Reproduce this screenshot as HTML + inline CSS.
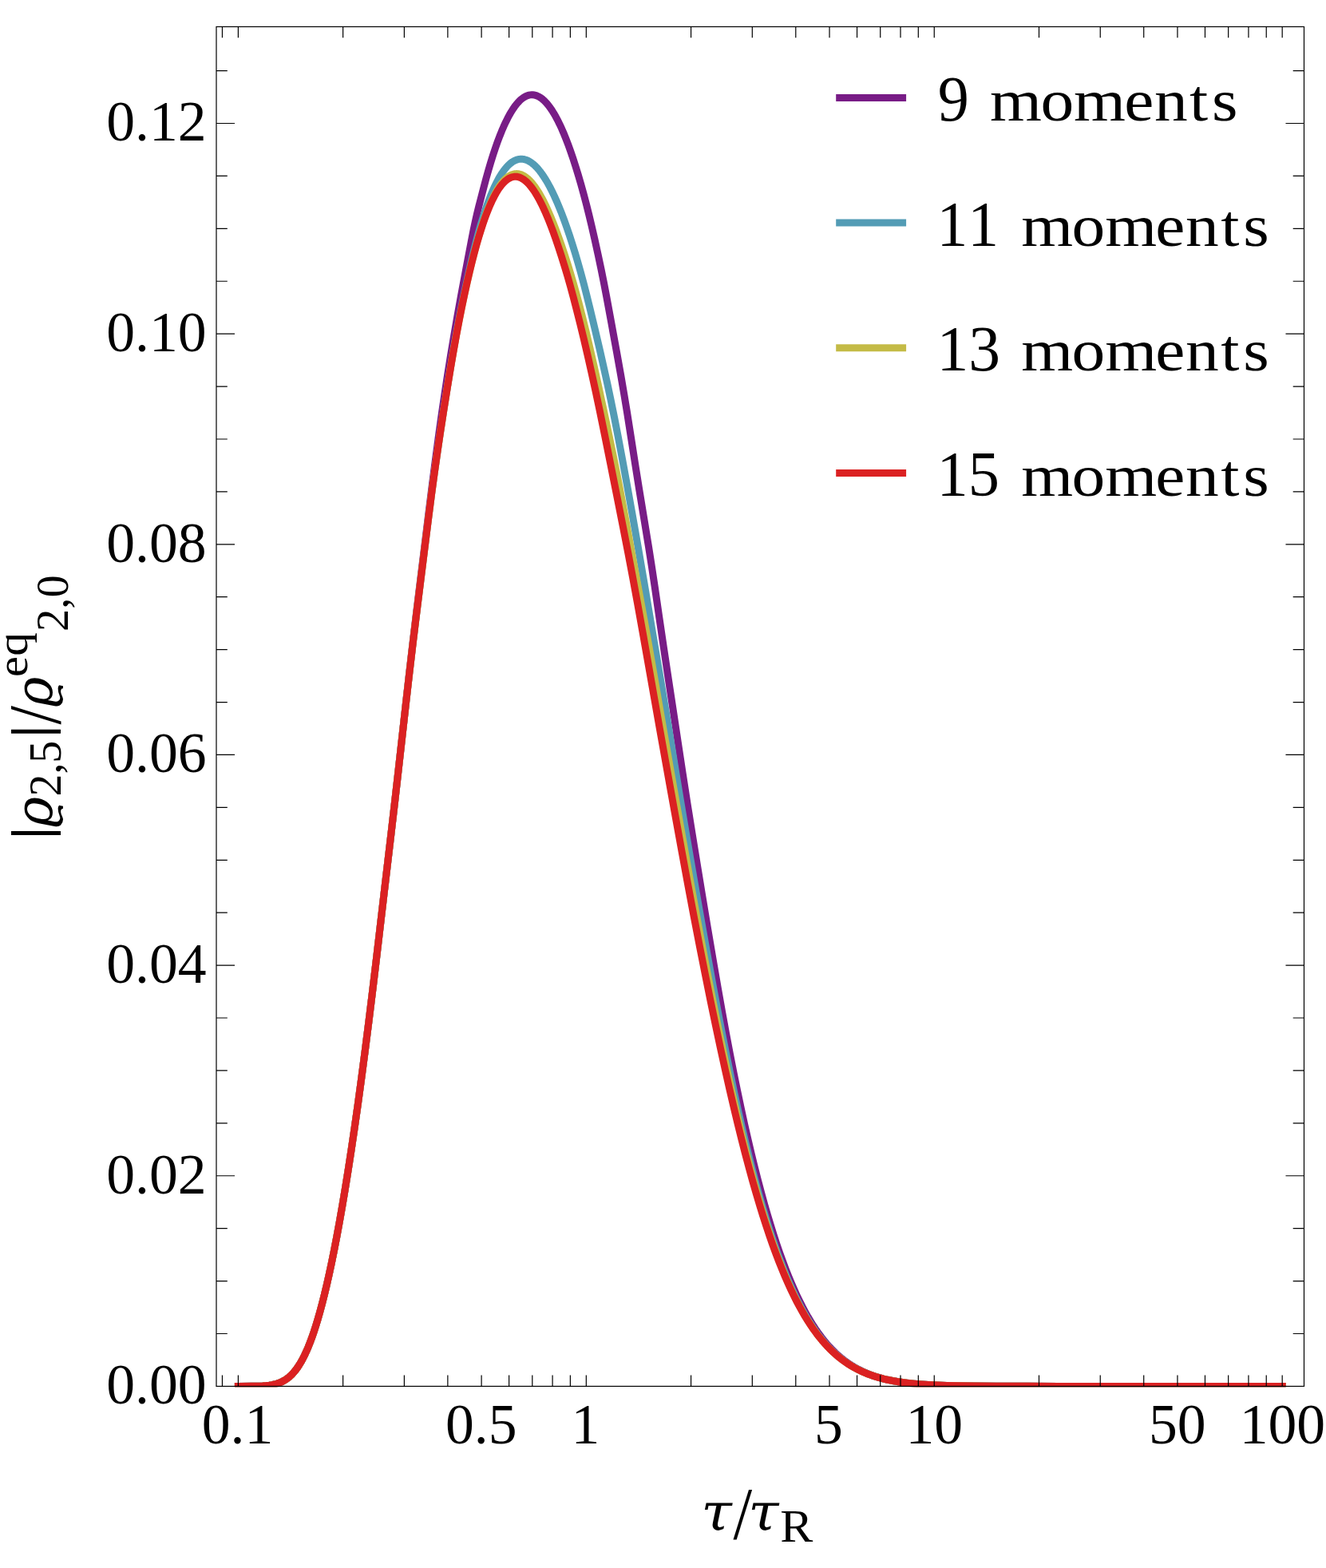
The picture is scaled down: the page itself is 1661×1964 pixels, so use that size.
<!DOCTYPE html>
<html lang="en"><head><meta charset="utf-8"><title>Moment convergence plot</title>
<style>html,body{margin:0;padding:0;background:#fff}body{width:1661px;height:1964px;overflow:hidden}svg{display:block}text{font-family:"Liberation Serif","DejaVu Serif",serif;fill:#000;font-kerning:none;white-space:pre}.it{font-style:italic}.gk{font-family:"DejaVu Serif","Liberation Serif",serif;font-style:italic}.sn{font-family:"Liberation Sans","DejaVu Sans",sans-serif}.c{fill:none;stroke-width:9.0;stroke-linecap:square;stroke-linejoin:round}.fr{fill:none;stroke:#000;stroke-width:1.2}.tk{stroke:#000;stroke-width:1.2;fill:none}</style></head>
<body><svg width="1661" height="1964" viewBox="0 0 1661 1964">
<rect width="1661" height="1964" fill="#fff"/>
<defs><clipPath id="pc"><rect x="271" y="33.5" width="1363.5" height="1703.8"/></clipPath></defs>
<g clip-path="url(#pc)">
<path class="c" stroke="#781C86" d="M298.40 1736.40 L315.08 1736.33 L323.30 1736.18 L329.01 1735.93 L333.53 1735.59 L337.36 1735.15 L340.72 1734.62 L343.74 1733.98 L346.52 1733.24 L349.11 1732.38 L351.56 1731.41 L353.89 1730.31 L356.16 1729.07 L358.34 1727.68 L360.47 1726.14 L362.58 1724.41 L364.66 1722.50 L366.72 1720.38 L368.79 1718.02 L370.87 1715.40 L372.94 1712.51 L375.04 1709.31 L377.17 1705.74 L379.32 1701.83 L381.51 1697.51 L383.75 1692.70 L386.02 1687.45 L388.35 1681.62 L390.74 1675.22 L393.17 1668.21 L395.69 1660.43 L398.26 1651.97 L400.92 1642.62 L403.64 1632.44 L406.47 1621.25 L409.37 1609.05 L412.38 1595.71 L415.48 1581.19 L418.69 1565.36 L422.00 1548.21 L425.42 1529.56 L428.95 1509.45 L432.60 1487.68 L436.36 1464.25 L440.24 1439.05 L444.24 1411.93 L448.38 1382.81 L452.67 1351.42 L457.14 1317.41 L461.86 1280.31 L466.74 1240.65 L471.50 1200.96 L476.15 1161.27 L480.81 1121.57 L485.49 1081.87 L490.16 1042.17 L494.77 1002.47 L499.27 962.75 L503.71 923.03 L508.14 883.30 L512.63 843.58 L517.19 804.27 L521.87 765.34 L526.74 725.66 L531.62 685.99 L536.49 646.32 L541.37 607.29 L545.64 574.28 L549.57 545.12 L553.31 518.45 L556.96 493.56 L560.69 469.21 L564.56 445.02 L568.57 420.97 L572.72 397.06 L577.39 371.12 L583.35 339.05 L590.27 302.51 L593.13 287.90 L595.35 277.33 L597.41 268.27 L599.89 258.13 L605.27 237.33 L608.82 223.87 L611.75 213.42 L614.81 203.12 L617.70 193.88 L620.53 185.39 L623.27 177.62 L625.94 170.52 L628.53 164.07 L631.05 158.22 L633.49 152.92 L635.85 148.16 L638.15 143.87 L640.38 140.04 L642.54 136.63 L644.63 133.60 L646.66 130.95 L648.63 128.62 L650.54 126.60 L652.39 124.85 L654.20 123.37 L655.95 122.12 L657.67 121.09 L659.35 120.27 L660.99 119.64 L662.63 119.17 L664.24 118.88 L665.83 118.76 L667.43 118.79 L669.03 118.98 L670.66 119.35 L672.32 119.88 L673.99 120.59 L675.70 121.51 L677.46 122.63 L679.27 123.98 L681.13 125.59 L683.05 127.45 L685.04 129.62 L687.08 132.10 L689.20 134.94 L691.38 138.15 L693.65 141.77 L695.99 145.82 L698.41 150.35 L700.92 155.40 L703.51 160.98 L706.18 167.15 L708.95 173.95 L711.81 181.42 L714.77 189.61 L717.82 198.56 L720.98 208.34 L724.23 218.94 L727.63 230.59 L731.09 243.01 L734.29 255.10 L737.55 268.09 L740.99 282.46 L744.78 299.07 L749.19 319.15 L753.02 337.30 L756.29 353.49 L759.81 371.85 L765.51 402.80 L772.60 441.61 L777.78 470.63 L781.78 493.92 L785.43 516.07 L790.26 546.68 L796.25 585.17 L800.74 613.26 L806.95 650.91 L812.41 684.34 L816.16 708.13 L820.25 735.25 L825.80 773.31 L831.33 810.99 L837.24 850.27 L843.25 889.78 L849.22 929.30 L855.20 968.83 L860.91 1005.85 L866.87 1043.33 L873.28 1082.79 L879.76 1122.23 L886.32 1161.66 L892.98 1201.07 L899.28 1237.55 L904.69 1268.02 L909.65 1295.07 L914.35 1319.84 L918.92 1343.12 L923.53 1365.77 L928.10 1387.49 L932.56 1407.86 L936.91 1427.06 L941.20 1445.24 L945.40 1462.39 L949.53 1478.61 L953.59 1493.90 L957.59 1508.36 L961.52 1521.99 L965.40 1534.89 L969.22 1547.04 L972.99 1558.54 L976.71 1569.37 L980.40 1579.61 L984.04 1589.27 L987.64 1598.39 L991.21 1607.01 L994.74 1615.12 L998.25 1622.80 L1001.73 1630.03 L1005.19 1636.87 L1008.63 1643.31 L1012.05 1649.39 L1015.46 1655.13 L1018.86 1660.55 L1022.25 1665.66 L1025.64 1670.48 L1029.03 1675.04 L1032.43 1679.33 L1035.83 1683.39 L1039.25 1687.21 L1042.69 1690.83 L1046.15 1694.23 L1049.65 1697.45 L1053.17 1700.48 L1056.75 1703.35 L1060.37 1706.05 L1064.06 1708.60 L1067.82 1711.00 L1071.65 1713.26 L1075.58 1715.39 L1079.61 1717.40 L1083.76 1719.28 L1088.04 1721.05 L1092.48 1722.71 L1097.09 1724.26 L1101.90 1725.70 L1106.95 1727.05 L1112.26 1728.30 L1117.89 1729.45 L1123.87 1730.50 L1130.29 1731.47 L1137.22 1732.35 L1144.79 1733.13 L1153.13 1733.83 L1162.47 1734.44 L1173.13 1734.97 L1185.59 1735.41 L1200.71 1735.77 L1220.08 1736.05 L1247.41 1736.24 L1286.43 1736.35 L1326.40 1736.39 L1366.37 1736.40 L1406.34 1736.40 L1446.31 1736.40 L1486.29 1736.40 L1526.26 1736.40 L1566.23 1736.40 L1606.20 1736.40"/>
<path class="c" stroke="#539CB5" d="M298.40 1736.40 L315.08 1736.33 L323.30 1736.18 L329.02 1735.93 L333.54 1735.59 L337.37 1735.15 L340.73 1734.61 L343.75 1733.98 L346.53 1733.23 L349.13 1732.38 L351.57 1731.40 L353.91 1730.30 L356.17 1729.06 L358.35 1727.68 L360.48 1726.13 L362.59 1724.40 L364.67 1722.49 L366.74 1720.36 L368.81 1718.00 L370.88 1715.37 L372.96 1712.48 L375.06 1709.28 L377.20 1705.70 L379.35 1701.79 L381.53 1697.46 L383.78 1692.64 L386.05 1687.38 L388.38 1681.54 L390.77 1675.13 L393.20 1668.11 L395.72 1660.32 L398.29 1651.85 L400.96 1642.48 L403.69 1632.28 L406.51 1621.07 L409.42 1608.85 L412.43 1595.48 L415.53 1580.93 L418.74 1565.07 L422.06 1547.89 L425.49 1529.21 L429.02 1509.05 L432.67 1487.24 L436.44 1463.76 L440.32 1438.52 L444.33 1411.35 L448.47 1382.17 L452.76 1350.72 L457.24 1316.63 L461.97 1279.42 L466.85 1239.74 L471.61 1200.03 L476.26 1160.32 L480.92 1120.60 L485.61 1080.88 L490.28 1041.17 L494.88 1001.44 L499.40 961.71 L503.86 921.97 L508.34 882.23 L512.88 842.50 L517.41 804.05 L522.08 765.82 L527.03 726.13 L531.98 686.45 L536.85 647.53 L540.65 618.19 L543.91 594.15 L547.42 569.50 L551.56 541.66 L556.80 507.64 L562.16 473.76 L566.09 449.86 L569.54 429.74 L572.79 411.76 L575.93 395.17 L579.29 378.36 L582.98 360.72 L586.94 342.59 L590.43 327.27 L593.61 313.97 L596.65 301.93 L599.53 291.15 L602.24 281.57 L604.92 272.71 L607.54 264.55 L610.10 257.07 L612.61 250.24 L615.06 244.00 L617.45 238.32 L619.78 233.18 L622.07 228.52 L624.29 224.34 L626.46 220.58 L628.57 217.23 L630.63 214.24 L632.63 211.61 L634.59 209.29 L636.49 207.27 L638.36 205.52 L640.17 204.02 L641.95 202.75 L643.70 201.70 L645.41 200.85 L647.10 200.19 L648.77 199.70 L650.44 199.38 L652.10 199.22 L653.76 199.22 L655.44 199.39 L657.13 199.72 L658.85 200.22 L660.61 200.90 L662.40 201.78 L664.24 202.86 L666.14 204.17 L668.08 205.71 L670.10 207.53 L672.18 209.62 L674.33 212.03 L676.55 214.76 L678.85 217.86 L681.23 221.34 L683.69 225.24 L686.24 229.59 L688.87 234.41 L691.59 239.75 L694.40 245.63 L697.30 252.09 L700.29 259.16 L703.39 266.89 L706.58 275.32 L709.85 284.42 L713.29 294.50 L716.81 305.32 L720.32 316.61 L723.82 328.44 L727.33 340.90 L730.90 354.15 L734.73 369.03 L739.23 387.25 L745.63 413.98 L751.61 439.58 L756.78 462.38 L761.37 483.32 L765.51 502.94 L769.63 523.25 L774.04 545.89 L779.06 572.52 L785.57 608.12 L792.63 647.48 L799.50 686.65 L806.16 725.54 L812.80 764.98 L819.45 804.41 L826.14 843.84 L832.81 883.27 L839.23 922.05 L845.67 961.51 L852.07 1000.43 L858.50 1038.60 L865.28 1078.01 L872.14 1117.41 L879.07 1156.79 L886.10 1196.16 L892.76 1232.59 L898.74 1264.44 L904.33 1293.38 L909.67 1320.24 L914.85 1345.49 L919.85 1369.12 L924.61 1390.85 L929.22 1411.17 L933.73 1430.36 L938.13 1448.38 L942.43 1465.37 L946.64 1481.35 L950.78 1496.44 L954.84 1510.65 L958.83 1524.08 L962.76 1536.73 L966.64 1548.69 L970.45 1559.97 L974.23 1570.63 L977.95 1580.68 L981.64 1590.20 L985.28 1599.16 L988.90 1607.64 L992.48 1615.64 L996.04 1623.20 L999.57 1630.35 L1003.07 1637.09 L1006.57 1643.46 L1010.04 1649.48 L1013.51 1655.16 L1016.96 1660.53 L1020.41 1665.60 L1023.86 1670.39 L1027.31 1674.92 L1030.77 1679.20 L1034.24 1683.23 L1037.72 1687.05 L1041.23 1690.65 L1044.76 1694.06 L1048.33 1697.28 L1051.94 1700.31 L1055.59 1703.18 L1059.29 1705.89 L1063.06 1708.45 L1066.90 1710.86 L1070.82 1713.14 L1074.83 1715.28 L1078.95 1717.30 L1083.19 1719.20 L1087.56 1720.98 L1092.09 1722.65 L1096.80 1724.21 L1101.71 1725.67 L1106.85 1727.03 L1112.26 1728.28 L1117.98 1729.45 L1124.06 1730.51 L1130.57 1731.49 L1137.59 1732.37 L1145.23 1733.16 L1153.64 1733.87 L1163.03 1734.48 L1173.71 1735.01 L1186.15 1735.45 L1201.17 1735.81 L1220.34 1736.08 L1247.34 1736.27 L1286.28 1736.37 L1326.27 1736.40 L1366.26 1736.40 L1406.25 1736.40 L1446.24 1736.40 L1486.23 1736.40 L1526.22 1736.40 L1566.21 1736.40 L1606.20 1736.40"/>
<path class="c" stroke="#C4BB46" d="M298.40 1736.40 L315.05 1736.33 L323.26 1736.18 L328.97 1735.93 L333.49 1735.59 L337.31 1735.16 L340.67 1734.63 L343.69 1733.99 L346.46 1733.25 L349.06 1732.40 L351.50 1731.43 L353.83 1730.34 L356.09 1729.11 L358.26 1727.73 L360.39 1726.20 L362.50 1724.48 L364.57 1722.58 L366.63 1720.48 L368.69 1718.14 L370.76 1715.53 L372.84 1712.66 L374.92 1709.49 L377.05 1705.95 L379.20 1702.07 L381.37 1697.79 L383.61 1693.02 L385.87 1687.82 L388.19 1682.04 L390.56 1675.70 L392.98 1668.75 L395.49 1661.05 L398.05 1652.67 L400.70 1643.42 L403.41 1633.33 L406.22 1622.27 L409.11 1610.18 L412.09 1596.99 L415.18 1582.61 L418.37 1566.96 L421.66 1549.98 L425.07 1531.54 L428.58 1511.63 L432.21 1490.09 L435.94 1466.91 L439.80 1441.97 L443.78 1415.15 L447.88 1386.35 L452.14 1355.32 L456.58 1321.73 L461.25 1285.18 L466.12 1245.72 L470.88 1206.13 L475.54 1166.54 L480.17 1126.94 L484.84 1087.34 L489.51 1047.75 L494.11 1008.15 L498.63 968.53 L503.08 928.91 L507.54 889.29 L512.05 849.68 L516.62 810.68 L521.18 773.11 L526.10 733.55 L531.05 693.99 L535.99 654.44 L540.07 622.66 L543.44 597.55 L546.88 573.11 L550.75 546.83 L555.17 517.98 L560.09 486.91 L564.13 462.29 L567.69 441.54 L571.01 423.02 L574.23 406.00 L577.43 389.85 L580.84 373.52 L584.48 356.90 L588.25 340.38 L591.29 327.63 L594.13 316.43 L596.98 305.84 L599.73 296.17 L602.40 287.33 L605.02 279.22 L607.56 271.83 L610.03 265.13 L612.43 259.02 L614.77 253.52 L617.04 248.55 L619.25 244.08 L621.39 240.10 L623.47 236.54 L625.49 233.40 L627.46 230.62 L629.36 228.19 L631.21 226.07 L633.01 224.24 L634.75 222.68 L636.47 221.36 L638.13 220.27 L639.76 219.38 L641.37 218.68 L642.95 218.16 L644.52 217.82 L646.09 217.63 L647.65 217.61 L649.23 217.75 L650.83 218.05 L652.44 218.52 L654.10 219.17 L655.79 220.02 L657.53 221.07 L659.33 222.36 L661.19 223.88 L663.11 225.68 L665.10 227.78 L667.17 230.19 L669.32 232.96 L671.56 236.11 L673.88 239.66 L676.30 243.68 L678.82 248.18 L681.45 253.21 L684.19 258.83 L687.04 265.06 L690.03 271.97 L693.16 279.62 L696.43 288.09 L699.88 297.45 L703.49 307.74 L707.40 319.43 L711.19 331.22 L714.73 342.75 L718.30 354.94 L721.94 367.95 L725.70 382.02 L729.69 397.55 L733.95 414.84 L738.43 433.72 L743.29 454.97 L748.97 480.53 L756.59 515.76 L763.35 547.62 L769.00 574.99 L773.94 599.68 L778.91 625.39 L785.24 659.12 L792.49 698.33 L799.77 737.53 L806.91 776.28 L812.64 808.10 L819.02 844.56 L825.80 883.84 L832.63 923.13 L839.54 962.39 L846.49 1001.65 L853.45 1040.91 L860.44 1080.16 L867.51 1119.40 L874.70 1158.56 L881.60 1195.26 L888.13 1229.19 L894.44 1261.18 L900.60 1291.61 L906.66 1320.73 L912.40 1347.62 L917.58 1371.11 L922.54 1392.94 L927.38 1413.51 L932.06 1432.73 L936.60 1450.73 L941.03 1467.68 L945.35 1483.59 L949.59 1498.60 L953.73 1512.71 L957.81 1526.03 L961.80 1538.57 L965.74 1550.43 L969.62 1561.60 L973.45 1572.16 L977.22 1582.11 L980.95 1591.52 L984.64 1600.39 L988.29 1608.78 L991.91 1616.70 L995.50 1624.18 L999.06 1631.25 L1002.60 1637.92 L1006.12 1644.23 L1009.62 1650.19 L1013.11 1655.82 L1016.59 1661.13 L1020.06 1666.16 L1023.53 1670.90 L1027.01 1675.39 L1030.49 1679.62 L1033.98 1683.63 L1037.48 1687.41 L1041.01 1690.99 L1044.57 1694.36 L1048.15 1697.56 L1051.78 1700.57 L1055.45 1703.42 L1059.18 1706.11 L1062.96 1708.65 L1066.82 1711.04 L1070.76 1713.30 L1074.80 1715.43 L1078.93 1717.44 L1083.20 1719.32 L1087.59 1721.09 L1092.15 1722.75 L1096.88 1724.30 L1101.81 1725.75 L1106.98 1727.10 L1112.41 1728.35 L1118.16 1729.50 L1124.27 1730.56 L1130.80 1731.53 L1137.85 1732.41 L1145.53 1733.20 L1153.98 1733.89 L1163.41 1734.50 L1174.14 1735.03 L1186.64 1735.47 L1201.74 1735.82 L1221.03 1736.09 L1248.27 1736.27 L1287.25 1736.37 L1327.11 1736.40 L1366.98 1736.40 L1406.85 1736.40 L1446.72 1736.40 L1486.59 1736.40 L1526.46 1736.40 L1566.33 1736.40 L1606.20 1736.40"/>
<path class="c" stroke="#DB2122" d="M298.40 1736.40 L315.08 1736.33 L323.30 1736.18 L329.01 1735.93 L333.53 1735.59 L337.36 1735.15 L340.72 1734.62 L343.75 1733.98 L346.52 1733.24 L349.12 1732.38 L351.57 1731.40 L353.90 1730.31 L356.16 1729.06 L358.34 1727.68 L360.47 1726.14 L362.58 1724.41 L364.66 1722.50 L366.73 1720.37 L368.79 1718.01 L370.87 1715.39 L372.95 1712.50 L375.04 1709.30 L377.18 1705.73 L379.33 1701.82 L381.52 1697.49 L383.76 1692.68 L386.03 1687.43 L388.36 1681.60 L390.75 1675.19 L393.18 1668.17 L395.70 1660.40 L398.27 1651.93 L400.93 1642.58 L403.66 1632.39 L406.48 1621.19 L409.39 1608.98 L412.39 1595.63 L415.50 1581.10 L418.71 1565.27 L422.02 1548.10 L425.44 1529.44 L428.97 1509.32 L432.63 1487.53 L436.39 1464.09 L440.27 1438.87 L444.27 1411.74 L448.41 1382.60 L452.70 1351.18 L457.18 1317.15 L461.90 1280.01 L466.78 1240.34 L471.53 1200.65 L476.19 1160.94 L480.84 1121.24 L485.53 1081.54 L490.20 1041.83 L494.81 1002.12 L499.32 962.40 L503.79 922.67 L508.26 882.94 L512.80 843.22 L517.34 804.63 L522.01 766.40 L526.96 726.73 L531.91 687.06 L536.83 647.82 L540.75 617.46 L544.12 592.62 L547.65 567.75 L551.56 541.39 L555.93 513.09 L560.59 483.92 L564.64 459.50 L568.33 438.13 L571.85 418.69 L575.27 400.65 L578.60 383.94 L581.83 368.49 L585.02 354.01 L588.15 340.52 L591.17 328.16 L594.11 316.79 L596.96 306.36 L599.74 296.80 L602.44 288.05 L605.05 280.10 L607.60 272.85 L610.07 266.27 L612.46 260.34 L614.78 254.97 L617.03 250.17 L619.22 245.86 L621.33 242.03 L623.38 238.62 L625.37 235.62 L627.30 232.99 L629.16 230.70 L630.98 228.71 L632.73 227.02 L634.45 225.57 L636.11 224.37 L637.73 223.39 L639.33 222.61 L640.90 222.01 L642.44 221.59 L643.98 221.34 L645.51 221.25 L647.04 221.32 L648.61 221.56 L650.17 221.96 L651.77 222.54 L653.42 223.31 L655.10 224.29 L656.83 225.48 L658.63 226.93 L660.48 228.63 L662.41 230.63 L664.41 232.94 L666.49 235.61 L668.64 238.64 L670.89 242.11 L673.22 246.00 L675.65 250.40 L678.19 255.32 L680.83 260.82 L683.59 266.95 L686.47 273.76 L689.49 281.31 L692.64 289.67 L695.96 298.94 L699.46 309.20 L703.14 320.51 L707.15 333.41 L710.78 345.58 L714.35 358.13 L718.08 371.84 L722.09 387.26 L726.66 405.49 L731.45 425.31 L736.27 445.90 L741.13 467.42 L746.07 490.01 L751.20 514.28 L757.14 543.25 L764.75 581.18 L772.57 620.39 L780.35 659.60 L786.88 693.12 L792.47 722.62 L798.55 755.66 L805.45 794.08 L812.40 833.45 L819.31 872.83 L826.26 912.19 L833.29 951.55 L840.36 990.90 L847.45 1030.24 L854.60 1069.57 L861.85 1108.89 L869.14 1147.55 L876.37 1185.06 L883.46 1221.00 L890.08 1253.78 L896.37 1284.12 L902.42 1312.61 L908.32 1339.60 L913.86 1364.23 L919.04 1386.55 L924.06 1407.51 L928.93 1427.18 L933.66 1445.63 L938.25 1462.93 L942.74 1479.23 L947.12 1494.55 L951.41 1508.99 L955.61 1522.58 L959.74 1535.41 L963.79 1547.49 L967.78 1558.90 L971.71 1569.66 L975.58 1579.82 L979.40 1589.40 L983.18 1598.46 L986.91 1606.99 L990.61 1615.06 L994.26 1622.67 L997.90 1629.87 L1001.49 1636.66 L1005.08 1643.07 L1008.63 1649.13 L1012.18 1654.85 L1015.70 1660.25 L1019.22 1665.35 L1022.74 1670.17 L1026.26 1674.72 L1029.77 1679.01 L1033.30 1683.07 L1036.84 1686.91 L1040.40 1690.53 L1043.98 1693.95 L1047.59 1697.18 L1051.24 1700.23 L1054.94 1703.11 L1058.68 1705.83 L1062.48 1708.40 L1066.36 1710.82 L1070.31 1713.10 L1074.36 1715.25 L1078.50 1717.27 L1082.77 1719.18 L1087.17 1720.96 L1091.73 1722.63 L1096.46 1724.20 L1101.39 1725.66 L1106.56 1727.02 L1111.98 1728.28 L1117.72 1729.44 L1123.82 1730.50 L1130.34 1731.48 L1137.38 1732.36 L1145.03 1733.15 L1153.46 1733.86 L1162.87 1734.47 L1173.57 1735.00 L1186.04 1735.44 L1201.10 1735.80 L1220.33 1736.07 L1247.42 1736.26 L1286.38 1736.36 L1326.36 1736.40 L1366.33 1736.40 L1406.31 1736.40 L1446.29 1736.40 L1486.27 1736.40 L1526.24 1736.40 L1566.22 1736.40 L1606.20 1736.40"/>
</g>
<path class="tk" d="M278.45 1736.4v-13.8M278.45 33.5v13.8M298.4 1736.4v-13.8M298.4 33.5v13.8M429.63 1736.4v-13.8M429.63 33.5v13.8M506.39 1736.4v-13.8M506.39 33.5v13.8M560.86 1736.4v-13.8M560.86 33.5v13.8M603.1 1736.4v-13.8M603.1 33.5v13.8M637.62 1736.4v-13.8M637.62 33.5v13.8M666.8 1736.4v-13.8M666.8 33.5v13.8M692.08 1736.4v-13.8M692.08 33.5v13.8M714.38 1736.4v-13.8M714.38 33.5v13.8M734.33 1736.4v-13.8M734.33 33.5v13.8M865.56 1736.4v-13.8M865.56 33.5v13.8M942.32 1736.4v-13.8M942.32 33.5v13.8M996.79 1736.4v-13.8M996.79 33.5v13.8M1039.03 1736.4v-13.8M1039.03 33.5v13.8M1073.55 1736.4v-13.8M1073.55 33.5v13.8M1102.73 1736.4v-13.8M1102.73 33.5v13.8M1128.01 1736.4v-13.8M1128.01 33.5v13.8M1150.31 1736.4v-13.8M1150.31 33.5v13.8M1170.26 1736.4v-13.8M1170.26 33.5v13.8M1301.49 1736.4v-13.8M1301.49 33.5v13.8M1378.25 1736.4v-13.8M1378.25 33.5v13.8M1432.72 1736.4v-13.8M1432.72 33.5v13.8M1474.96 1736.4v-13.8M1474.96 33.5v13.8M1509.48 1736.4v-13.8M1509.48 33.5v13.8M1538.66 1736.4v-13.8M1538.66 33.5v13.8M1563.94 1736.4v-13.8M1563.94 33.5v13.8M1586.24 1736.4v-13.8M1586.24 33.5v13.8M1606.19 1736.4v-13.8M1606.19 33.5v13.8M271 1670.49h13.8M1633.5 1670.49h-13.8M271 1604.58h13.8M1633.5 1604.58h-13.8M271 1538.66h13.8M1633.5 1538.66h-13.8M271 1472.75h23M1633.5 1472.75h-23M271 1406.84h13.8M1633.5 1406.84h-13.8M271 1340.93h13.8M1633.5 1340.93h-13.8M271 1275.01h13.8M1633.5 1275.01h-13.8M271 1209.1h23M1633.5 1209.1h-23M271 1143.19h13.8M1633.5 1143.19h-13.8M271 1077.28h13.8M1633.5 1077.28h-13.8M271 1011.36h13.8M1633.5 1011.36h-13.8M271 945.45h23M1633.5 945.45h-23M271 879.54h13.8M1633.5 879.54h-13.8M271 813.62h13.8M1633.5 813.62h-13.8M271 747.71h13.8M1633.5 747.71h-13.8M271 681.8h23M1633.5 681.8h-23M271 615.89h13.8M1633.5 615.89h-13.8M271 549.98h13.8M1633.5 549.98h-13.8M271 484.06h13.8M1633.5 484.06h-13.8M271 418.15h23M1633.5 418.15h-23M271 352.24h13.8M1633.5 352.24h-13.8M271 286.33h13.8M1633.5 286.33h-13.8M271 220.41h13.8M1633.5 220.41h-13.8M271 154.5h23M1633.5 154.5h-23M271 88.59h13.8M1633.5 88.59h-13.8"/>
<rect class="fr" x="271" y="33.5" width="1362.5" height="1702.9"/>
<text font-size="100" transform="matrix(0.7165 0 0 0.7170 133.27 1758.18)">0.00</text>
<text font-size="100" transform="matrix(0.7165 0 0 0.7170 133.27 1494.53)">0.02</text>
<text font-size="100" transform="matrix(0.7165 0 0 0.7170 133.27 1230.88)">0.04</text>
<text font-size="100" transform="matrix(0.7165 0 0 0.7170 133.27 967.23)">0.06</text>
<text font-size="100" transform="matrix(0.7165 0 0 0.7170 133.27 703.58)">0.08</text>
<text font-size="100" transform="matrix(0.7165 0 0 0.7170 133.27 439.93)">0.10</text>
<text font-size="100" transform="matrix(0.7165 0 0 0.7170 133.27 176.28)">0.12</text>
<text font-size="100" transform="matrix(0.7165 0 0 0.7170 252.71 1807.60)">0.1</text>
<text font-size="100" transform="matrix(0.7165 0 0 0.7170 557.95 1807.60)">0.5</text>
<text font-size="100" transform="matrix(0.7165 0 0 0.7170 715.44 1807.60)">1</text>
<text font-size="100" transform="matrix(0.7165 0 0 0.7170 1020.06 1807.60)">5</text>
<text font-size="100" transform="matrix(0.7165 0 0 0.7170 1134.44 1807.60)">10</text>
<text font-size="100" transform="matrix(0.7165 0 0 0.7170 1438.91 1807.60)">50</text>
<text font-size="100" transform="matrix(0.7165 0 0 0.7170 1552.68 1807.60)">100</text>
<path d="M1047.2 122.4H1135.1" stroke="#781C86" stroke-width="9.0" fill="none"/>
<g><text font-size="100" transform="matrix(0.7826 0 0 0.8050 1174.68 150.90)">9 </text><text font-size="100" transform="matrix(0.8350 0 0 0.7480 0 150.90)" x="1485.0 1561.0 1610.8 1686.4 1731.6 1784.5 1818.0">moments</text></g>
<path d="M1047.2 279.1H1135.1" stroke="#539CB5" stroke-width="9.0" fill="none"/>
<g><text font-size="100" transform="matrix(0.7758 0 0 0.8050 1173.48 307.60)">11 </text><text font-size="100" transform="matrix(0.8350 0 0 0.7480 0 307.60)" x="1531.9 1607.9 1657.7 1733.3 1778.5 1831.4 1865.0">moments</text></g>
<path d="M1047.2 435.7H1135.1" stroke="#C4BB46" stroke-width="9.0" fill="none"/>
<g><text font-size="100" transform="matrix(0.7961 0 0 0.8050 1173.50 464.20)">13 </text><text font-size="100" transform="matrix(0.8350 0 0 0.7480 0 464.20)" x="1531.9 1607.9 1657.7 1733.3 1778.5 1831.4 1865.0">moments</text></g>
<path d="M1047.2 592.4H1135.1" stroke="#DB2122" stroke-width="9.0" fill="none"/>
<g><text font-size="100" transform="matrix(0.7846 0 0 0.8050 1173.60 620.90)">15 </text><text font-size="100" transform="matrix(0.8350 0 0 0.7480 0 620.90)" x="1531.9 1607.9 1657.7 1733.3 1778.5 1831.4 1865.0">moments</text></g>
<g><text class="gk" font-size="100" transform="matrix(0.6980 0 0 0.6542 878.36 1916.71)">τ</text><text font-size="100" transform="matrix(0.8494 0 0 0.9328 918.50 1926.89)">/</text><text class="gk" font-size="100" transform="matrix(0.6920 0 0 0.6542 937.20 1916.71)">τ</text><text font-size="100" transform="matrix(0.6157 0 0 0.5742 977.13 1931.40)">R</text></g>
<g><text class="sn" font-size="100" transform="rotate(-90) matrix(0.6169 0 0 0.6658 -1051.41 61.99)">|</text><text class="gk" font-size="100" transform="rotate(-90) matrix(0.6544 0 0 0.6593 -1036.56 64.95)">ϱ</text><text font-size="100" transform="rotate(-90) matrix(0.5570 0 0 0.5600 -997.45 76.10)">2,5</text><text class="sn" font-size="100" transform="rotate(-90) matrix(0.6292 0 0 0.6658 -924.62 61.99)">|</text><text font-size="100" transform="rotate(-90) matrix(0.8422 0 0 0.9321 -907.50 75.19)">/</text><text class="gk" font-size="100" transform="rotate(-90) matrix(0.6452 0 0 0.6593 -885.75 64.95)">ϱ</text><text font-size="100" transform="rotate(-90) matrix(0.5898 0 0 0.5440 -848.00 33.90)">eq</text><text font-size="100" transform="rotate(-90) matrix(0.5651 0 0 0.5660 -790.88 84.90)">2,0</text></g>
</svg></body></html>
